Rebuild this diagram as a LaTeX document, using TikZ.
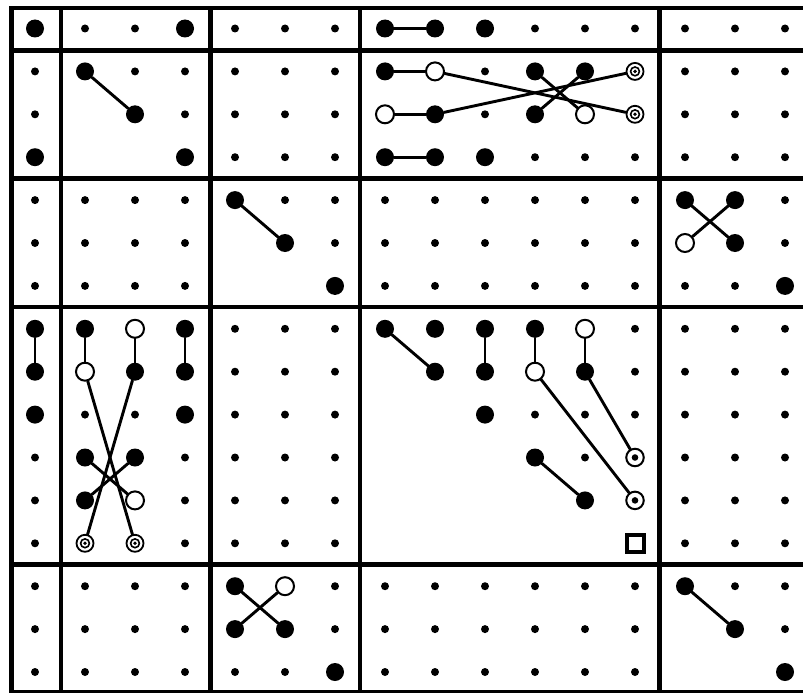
\documentclass[tikz,border=0pt]{standalone}
\tikzset{
  dotS/.style={circle, fill=black, inner sep=0pt, minimum size=8pt},
  dotB/.style={circle, fill=black, inner sep=0pt, minimum size=18pt},
  dotO/.style={circle, draw=black, fill=white, line width=2pt, inner sep=0pt, minimum size=18pt},
  dotT/.style={circle, draw=black, fill=white, line width=1.8pt, inner sep=0pt, minimum size=17pt,
    path picture={\draw[draw=black, line width=1.6pt] (path picture bounding box.center) circle (4.4);
                  \fill[black] (path picture bounding box.center) circle (1.9);}},
  dotC/.style={circle, draw=black, fill=white, line width=2pt, inner sep=0pt, minimum size=17.5pt,
    path picture={\fill[black] (path picture bounding box.center) circle (3.3);}},
  dotQ/.style={rectangle, draw=black, fill=white, line width=4pt, inner sep=0pt, minimum size=17pt},
  dotN/.style={inner sep=0pt, minimum size=0pt},
  gridline/.style={line width=4.3pt},
  conn/.style={line width=2.9pt, line cap=round},
}
\newcommand\dotrow[2]{%
  \foreach \t [count=\i from 0] in {#2}
    \node[dot\t] (n-\i-#1) at ({35+50*\i},{28.5+42.9*#1}) {};%
}
\begin{document}
\begin{tikzpicture}[x=1pt,y=-1pt]
\useasboundingbox (0,0) rectangle (803,693);
\clip (0,0) rectangle (803,693);
% grid
\draw[gridline] (11.5,8) rectangle (812,692.5);
\foreach \gx in {60.8,210.5,360,659.5}
  \draw[gridline] (\gx,8) -- (\gx,692.5);
\foreach \gy in {50.5,178.5,307,564.5}
  \draw[gridline] (11.5,\gy) -- (812,\gy);
% dots
\dotrow{0}{B,S,S,B,S,S,S,B,B,B,S,S,S,S,S,S}
\dotrow{1}{S,B,S,S,S,S,S,B,O,S,B,B,T,S,S,S}
\dotrow{2}{S,N,B,S,S,S,S,O,B,S,B,O,T,S,S,S}
\dotrow{3}{B,N,N,B,S,S,S,B,B,B,S,S,S,S,S,S}
\dotrow{4}{S,S,S,S,B,S,S,S,S,S,S,S,S,B,B,S}
\dotrow{5}{S,S,S,S,N,B,S,S,S,S,S,S,S,O,B,S}
\dotrow{6}{S,S,S,S,N,N,B,S,S,S,S,S,S,S,S,B}
\dotrow{7}{B,B,O,B,S,S,S,B,B,B,B,O,S,S,S,S}
\dotrow{8}{B,O,B,B,S,S,S,N,B,B,O,B,S,S,S,S}
\dotrow{9}{B,S,S,B,S,S,S,N,N,B,S,S,S,S,S,S}
\dotrow{10}{S,B,B,S,S,S,S,N,N,N,B,S,C,S,S,S}
\dotrow{11}{S,B,O,S,S,S,S,N,N,N,N,B,C,S,S,S}
\dotrow{12}{S,T,T,S,S,S,S,N,N,N,N,N,Q,S,S,S}
\dotrow{13}{S,S,S,S,B,O,S,S,S,S,S,S,S,B,S,S}
\dotrow{14}{S,S,S,S,B,B,S,S,S,S,S,S,S,N,B,S}
\dotrow{15}{S,S,S,S,S,S,B,S,S,S,S,S,S,N,N,B}
% connectors
\draw[conn] (n-7-0) -- (n-8-0);
\draw[conn] (n-1-1) -- (n-2-2);
\draw[conn] (n-7-1) -- (n-8-1);
\draw[conn] (n-7-2) -- (n-8-2);
\draw[conn] (n-7-3) -- (n-8-3);
\draw[conn] (n-8-1) -- (n-12-2);
\draw[conn] (n-8-2) -- (n-12-1);
\draw[conn] (n-10-1) -- (n-11-2);
\draw[conn] (n-11-1) -- (n-10-2);
\draw[conn] (n-4-4) -- (n-5-5);
\draw[conn] (n-13-4) -- (n-14-5);
\draw[conn] (n-14-4) -- (n-13-5);
\draw[conn] (n-0-7) -- (n-0-8);
\draw[conn] (n-1-7) -- (n-1-8);
\draw[conn] (n-2-7) -- (n-2-8);
\draw[conn] (n-3-7) -- (n-3-8);
\draw[conn] (n-1-8) -- (n-2-12);
\draw[conn] (n-2-8) -- (n-1-12);
\draw[conn] (n-1-10) -- (n-2-11);
\draw[conn] (n-2-10) -- (n-1-11);
\draw[conn] (n-7-7) -- (n-8-8);
\draw[conn] (n-9-7) -- (n-9-8);
\draw[conn] (n-10-7) -- (n-10-8);
\draw[conn] (n-11-7) -- (n-11-8);
\draw[conn] (n-10-8) -- (n-12-11);
\draw[conn] (n-11-8) -- (n-12-10);
\draw[conn] (n-10-10) -- (n-11-11);
\draw[conn] (n-4-13) -- (n-5-14);
\draw[conn] (n-5-13) -- (n-4-14);
\draw[conn] (n-13-13) -- (n-14-14);
\end{tikzpicture}
\end{document}
